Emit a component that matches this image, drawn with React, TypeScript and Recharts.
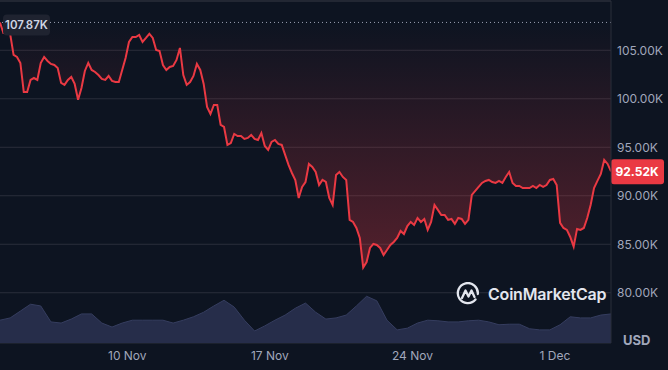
import React from 'react';
import {
  ComposedChart,
  Area,
  XAxis,
  YAxis,
  CartesianGrid,
  ReferenceLine,
} from 'recharts';

// time axis is in hours counted from 4 Nov 00:00
const startHour = -6;
const stepHours = 4;

// BTC price in thousands of USD, one reading every 4 hours
const prices = [
  107.87, 106.78, 106.78, 106.68, 104.52, 104.31, 103.69, 100.7, 100.7, 101.94,
  102.14, 101.94, 103.69, 104.31, 103.9, 103.59, 103.48, 103.18, 101.63, 101.43,
  101.94, 102.25, 101.53, 99.9, 101.11, 102.87, 103.69, 102.97, 102.76, 102.45,
  102.04, 101.94, 102.35, 101.84, 101.73, 101.73, 102.97, 104.21, 105.86, 106.37,
  106.37, 106.58, 105.86, 106.27, 106.7, 106.27, 105.03, 104.93, 103.48, 102.97,
  103.28, 103.38, 104.0, 105.24, 102.45, 101.43, 101.73, 102.35, 103.59, 102.97,
  101.53, 99.16, 98.43, 99.36, 99.36, 97.3, 97.09, 95.24, 95.44, 96.37,
  96.16, 96.16, 95.86, 95.96, 96.27, 95.86, 95.75, 96.47, 95.13, 94.72,
  95.55, 95.75, 95.34, 95.24, 94.21, 93.18, 92.35, 91.63, 89.77, 90.91,
  91.42, 93.28, 92.97, 92.45, 91.11, 91.63, 91.42, 89.77, 89.05, 92.14,
  92.45, 91.94, 91.63, 87.51, 87.3, 86.68, 85.65, 82.6, 83.17, 84.62,
  85.03, 84.93, 84.62, 83.89, 84.41, 84.93, 85.24, 85.65, 86.37, 86.06,
  86.88, 87.3, 86.99, 87.71, 87.3, 87.61, 86.48, 87.3, 89.05, 88.54,
  88.02, 88.02, 87.51, 87.61, 87.1, 87.71, 87.61, 87.1, 87.51, 90.09,
  90.5, 90.91, 91.32, 91.53, 91.63, 91.42, 91.32, 91.53, 91.32, 91.94,
  92.45, 91.32, 91.01, 91.01, 90.8, 90.8, 90.8, 91.01, 90.8, 91.11,
  90.91, 91.11, 91.63, 91.73, 91.11, 87.2, 86.68, 86.48, 85.75, 84.75,
  86.58, 86.48, 86.68, 87.71, 89.05, 90.8, 91.53, 92.25, 93.69, 93.28,
  92.52,
];

// traded volume in billions of USD, one reading every 12 hours
const volumeStepHours = 12;
const volumes = [
  40, 44, 56, 68, 65, 37, 35, 42, 51, 51,
  35, 28, 35, 40, 40, 40, 40, 35, 40, 46,
  54, 65, 75, 63, 40, 21, 30, 40, 49, 61,
  70, 54, 42, 44, 49, 65, 82, 74, 40, 23,
  26, 35, 40, 39, 37, 37, 39, 40, 37, 32,
  33, 33, 25, 23, 23, 32, 46, 44, 44, 49,
  51,
];

const tickHours = [144, 312, 480, 648];
const tickLabels = ['10 Nov', '17 Nov', '24 Nov', '1 Dec'];
const priceTicks = [80, 85, 90, 95, 100, 105];
const openPrice = 107.87;
const lastPrice = 92.52;

const data = prices.map((price, i) => {
  const vi = (i * stepHours) / volumeStepHours;
  return {
    t: startHour + i * stepHours,
    price,
    volume: Number.isInteger(vi) ? volumes[vi] : undefined,
  };
});

const bg = '#0d1421';
const grid = '#2a2e3b';
const axisText = '#a1a7bb';
const red = '#ea3943';
const font = 'Inter, "Noto Sans", sans-serif';

const fmtK = (v: number) => `${v.toFixed(2)}K`;

function OpenTag(props: any) {
  const { x, y } = props.viewBox;
  return (
    <g>
      <rect x={x + 3} y={y - 8} width={47} height={21} rx={4} fill="#1f2330" />
      <text
        x={x + 26.5}
        y={y + 3}
        textAnchor="middle"
        dominantBaseline="central"
        fill="#cfd6e4"
        fontSize={11.5}
        fontWeight={600}
        fontFamily={font}
      >
        {fmtK(openPrice)}
      </text>
    </g>
  );
}

function LastTag(props: any) {
  const { x, y, width } = props.viewBox;
  const left = x + width;
  return (
    <g>
      <rect x={left} y={y - 12} width={53} height={25} rx={3} fill={red} />
      <text
        x={left + 26}
        y={y + 0.5}
        textAnchor="middle"
        dominantBaseline="central"
        fill="#ffffff"
        fontSize={12}
        fontWeight={700}
        fontFamily={font}
      >
        {fmtK(lastPrice)}
      </text>
    </g>
  );
}

function Watermark() {
  return (
    <div
      style={{
        position: 'absolute',
        left: 456,
        top: 282,
        display: 'flex',
        alignItems: 'center',
        gap: 8,
        pointerEvents: 'none',
      }}
    >
      <svg width={24} height={24} viewBox="0 0 24 24">
        <path
          d="M19.5 17.5 A10 10 0 1 1 21.8 12"
          fill="none"
          stroke="#e3e6ee"
          strokeWidth={2.3}
          strokeLinecap="round"
        />
        <path
          d="M6 16 L9.5 8.5 L12.5 14.5 L15.5 8.5 L18.5 15"
          fill="none"
          stroke="#e3e6ee"
          strokeWidth={2.3}
          strokeLinecap="round"
          strokeLinejoin="round"
        />
      </svg>
      <span
        style={{
          color: '#e3e6ee',
          fontFamily: font,
          fontSize: 16,
          fontWeight: 600,
          letterSpacing: -0.2,
        }}
      >
        CoinMarketCap
      </span>
    </div>
  );
}

export default function App() {
  return (
    <div style={{ position: 'relative', width: 668, height: 370, background: bg }}>
      <style>{`body{margin:0;background:${bg};}`}</style>
      <ComposedChart
        width={668}
        height={370}
        data={data}
        margin={{ top: 0, right: 0, bottom: 0, left: 0 }}
      >
        <defs>
          <linearGradient id="redFade" x1="0" y1="0" x2="0" y2="1">
            <stop offset="0%" stopColor={red} stopOpacity={0} />
            <stop offset="100%" stopColor={red} stopOpacity={0.32} />
          </linearGradient>
        </defs>
        <CartesianGrid vertical={false} stroke={grid} yAxisId="price" />
        <XAxis
          dataKey="t"
          type="number"
          domain={[startHour, 714]}
          ticks={tickHours}
          tickFormatter={(v: number) => tickLabels[tickHours.indexOf(v)]}
          tick={{ fill: axisText, fontSize: 12, fontFamily: font }}
          axisLine={false}
          tickLine={false}
          tickSize={0}
          tickMargin={8}
          height={27}
        />
        <XAxis
          xAxisId="top"
          orientation="top"
          dataKey="t"
          type="number"
          domain={[startHour, 714]}
          tick={false}
          tickLine={false}
          axisLine={{ stroke: grid }}
          height={1}
        />
        <YAxis
          yAxisId="price"
          orientation="right"
          domain={[74.82, 110.08]}
          ticks={priceTicks}
          tickFormatter={fmtK}
          tick={{ fill: axisText, fontSize: 12, fontFamily: font }}
          axisLine={{ stroke: grid }}
          tickLine={false}
          tickSize={0}
          tickMargin={6}
          width={57}
          allowDataOverflow
        />
        <YAxis yAxisId="vol" orientation="left" domain={[0, 600]} hide />
        <Area
          yAxisId="vol"
          dataKey="volume"
          type="linear"
          connectNulls
          stroke="#353d5f"
          strokeWidth={1}
          fill="#262d4a"
          fillOpacity={1}
          isAnimationActive={false}
        />
        <ReferenceLine
          yAxisId="price"
          y={openPrice}
          stroke="#9aa0b3"
          strokeDasharray="1 3"
          label={(p: any) => <OpenTag {...p} />}
        />
        <Area
          yAxisId="price"
          dataKey="price"
          type="linear"
          baseValue={openPrice}
          stroke={red}
          strokeWidth={2}
          fill="url(#redFade)"
          fillOpacity={1}
          isAnimationActive={false}
        />
        <ReferenceLine
          yAxisId="price"
          y={lastPrice}
          stroke="none"
          label={(p: any) => <LastTag {...p} />}
        />
      </ComposedChart>
      <Watermark />
      <div
        style={{
          position: 'absolute',
          left: 623,
          top: 332,
          color: axisText,
          fontFamily: font,
          fontSize: 13,
          fontWeight: 700,
        }}
      >
        USD
      </div>
    </div>
  );
}
